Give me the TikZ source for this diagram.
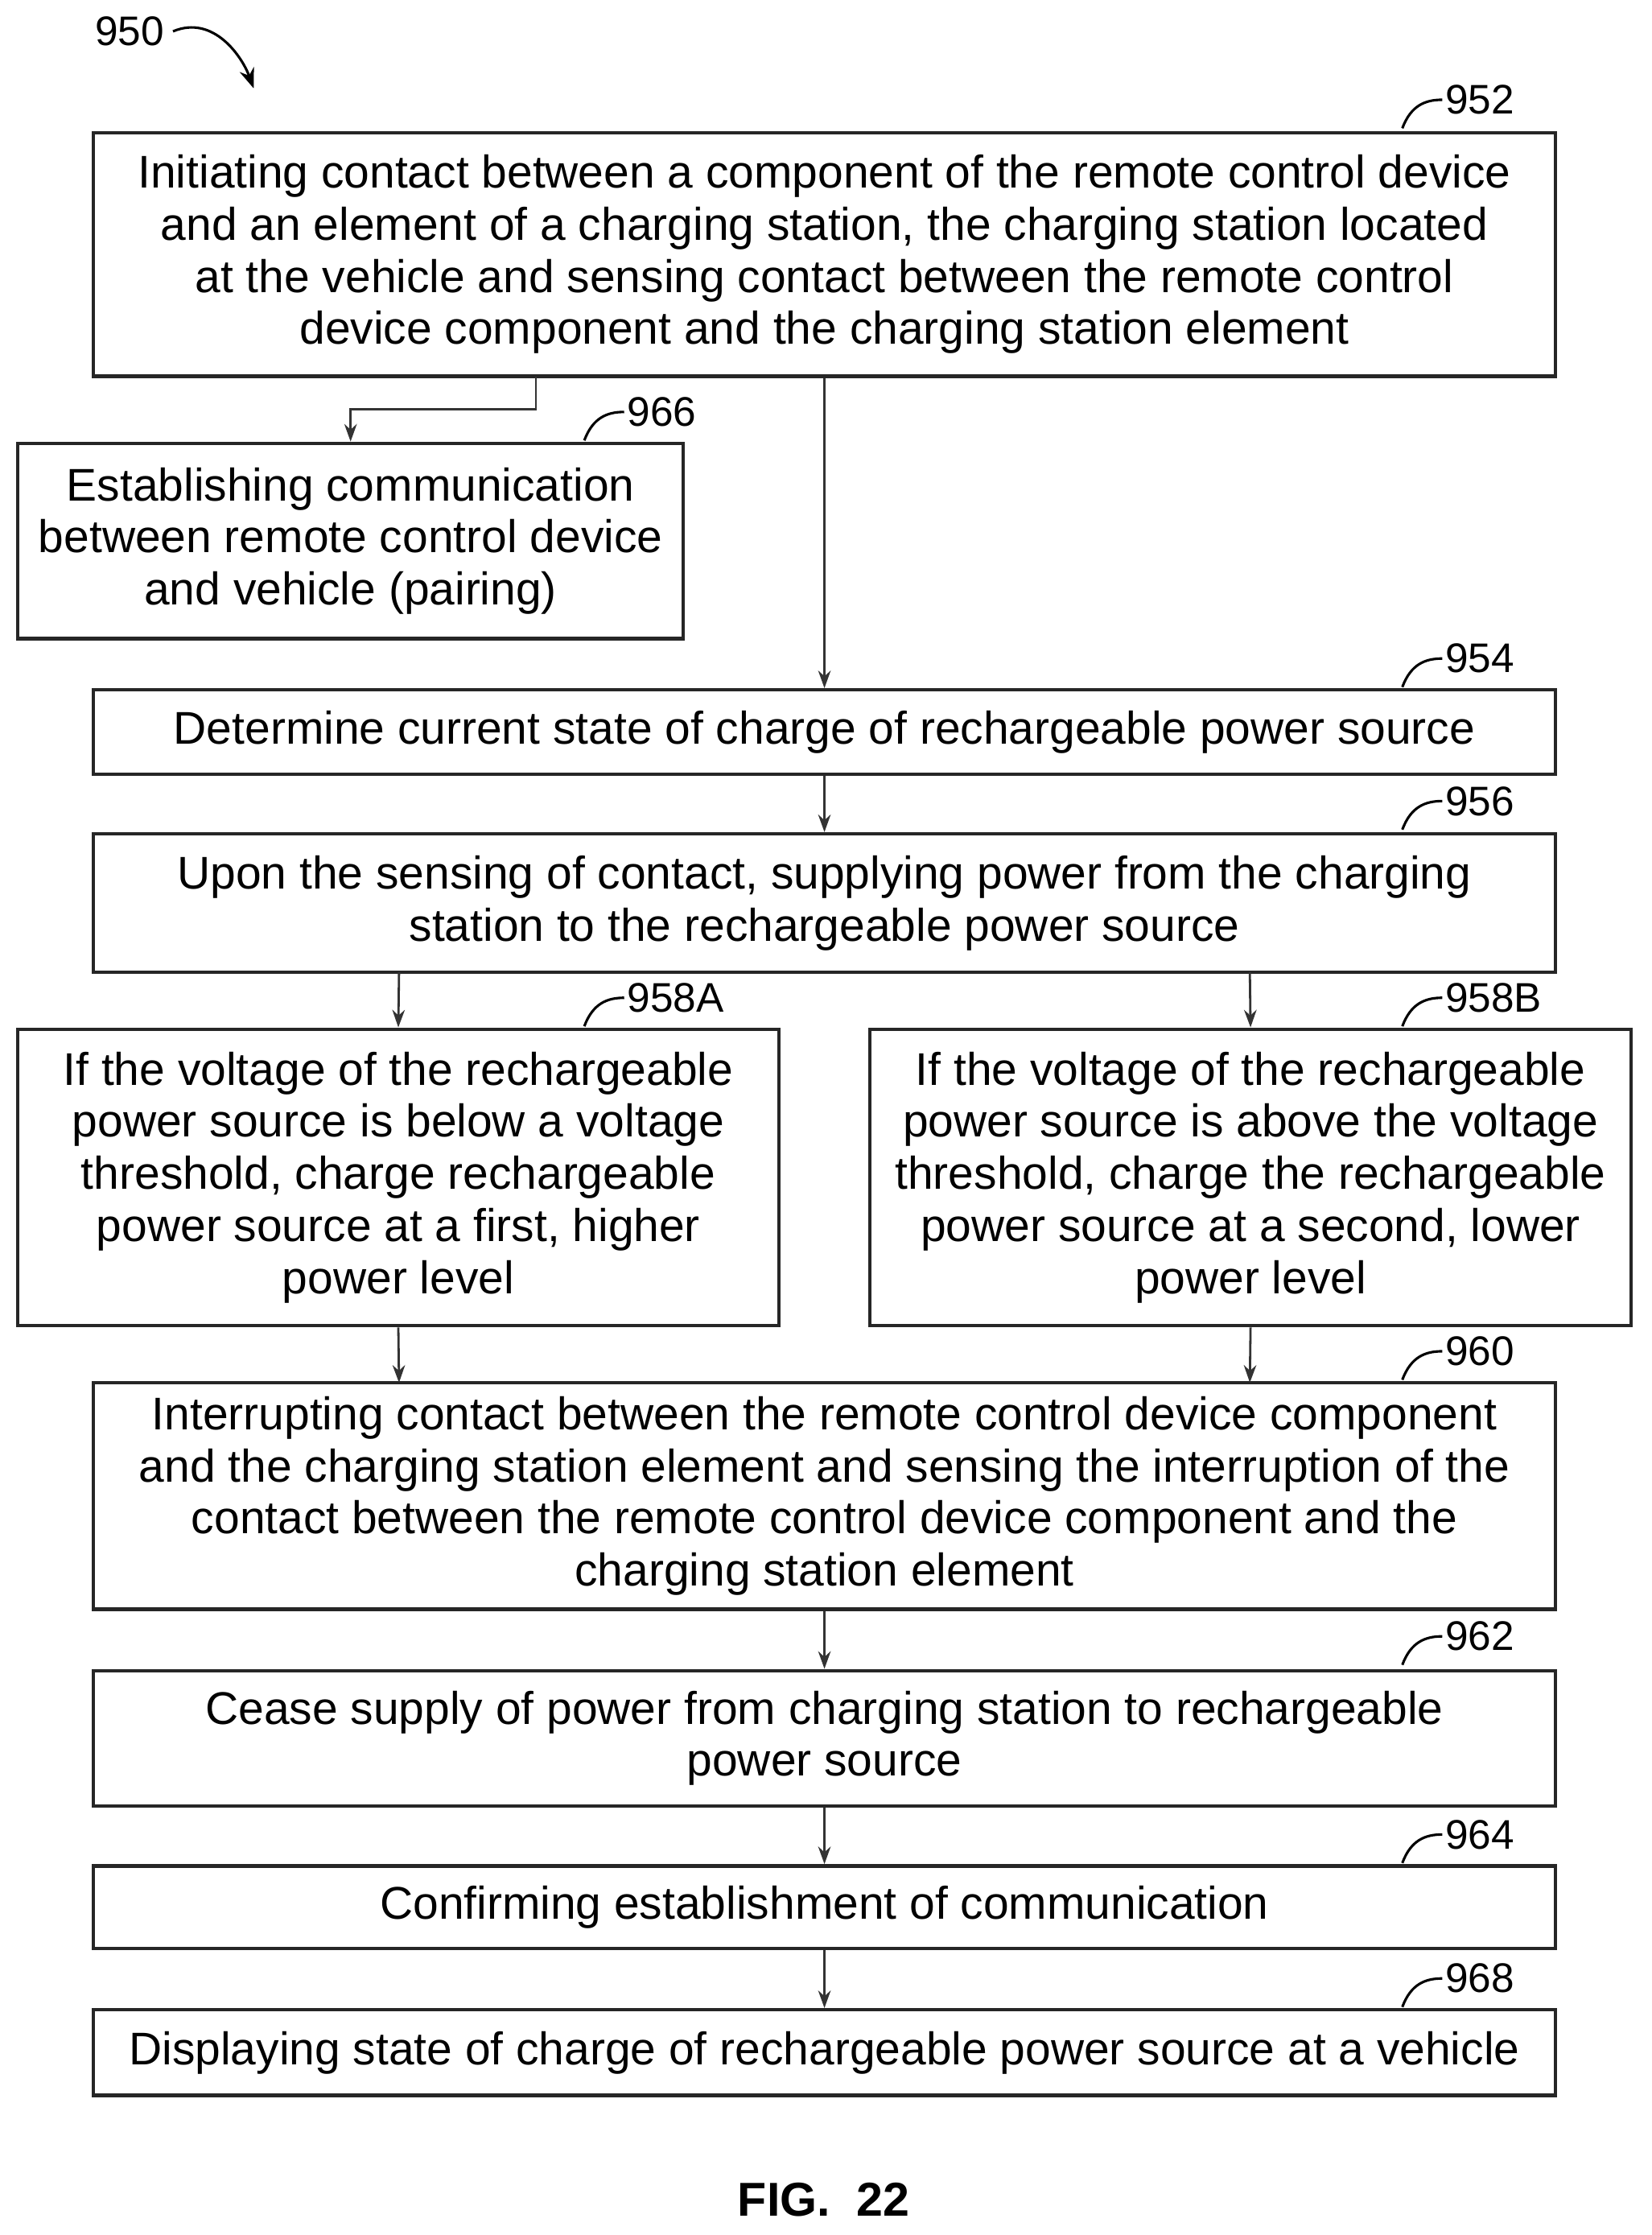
\documentclass[tikz,border=0pt]{standalone}
\usepackage{fontspec}
\setmainfont{Liberation Sans}
\usetikzlibrary{arrows.meta}
\begin{document}
\begin{tikzpicture}[x=0.02cm,y=-0.02cm,
 box/.style={draw=black!85,line width=1.4pt,align=center,inner sep=0pt,font=\fontsize{18.3}{20.8}\selectfont},
 arr/.style={draw=black!80,line width=0.9pt,-{Stealth[length=7pt,width=5pt]}},
 lab/.style={font=\fontsize{16.5}{18}\selectfont,anchor=west,inner sep=1pt},
 lead/.style={line width=1pt}]
\useasboundingbox (0,0) rectangle (1159,1568);
\newcommand{\bx}[6]{\node[box,minimum width=#4*0.02cm-0.02cm,minimum height=#5*0.02cm] (#1) at (#2,#3) {#6};}
\bx{b952}{578.5}{178.5}{1027}{171}{Initiating contact between a component of the remote control device\\and an element of a charging station, the charging station located\\at the vehicle and sensing contact between the remote control\\device component and the charging station element}
\bx{b966}{246}{379.5}{468}{137}{Establishing communication\\between remote control device\\and vehicle (pairing)}
\bx{b954}{578.5}{513.5}{1027}{59}{Determine current state of charge of rechargeable power source}
\bx{b956}{578.5}{633.5}{1027}{97}{Upon the sensing of contact, supplying power from the charging\\station to the rechargeable power source}
\bx{b958A}{279.5}{826}{535}{208}{If the voltage of the rechargeable\\power source is below a voltage\\threshold, charge rechargeable\\power source at a first, higher\\power level}
\bx{b958B}{877.5}{826}{535}{208}{If the voltage of the rechargeable\\power source is above the voltage\\threshold, charge the rechargeable\\power source at a second, lower\\power level}
\bx{b960}{578.5}{1049.5}{1027}{159}{Interrupting contact between the remote control device component\\and the charging station element and sensing the interruption of the\\contact between the remote control device component and the\\charging station element}
\bx{b962}{578.5}{1219.5}{1027}{95}{Cease supply of power from charging station to rechargeable\\power source}
\bx{b964}{578.5}{1338}{1027}{58}{Confirming establishment of communication}
\bx{b968}{578.5}{1440}{1027}{60}{Displaying state of charge of rechargeable power source at a vehicle}
% connectors
\draw[arr] (b952.south) -- (b954.north);
\coordinate (k1) at (376,264);
\draw[arr] (k1) |- (246,287) -- (b966.north);
\draw[arr] (b954.south) -- (b956.north);
\draw[arr] (280,682) -- (b958A.north);
\draw[arr] (877,682) -- (b958B.north);
\draw[arr] (b958A.south) -- (280,970);
\draw[arr] (b958B.south) -- (877,970);
\draw[arr] (b960.south) -- (b962.north);
\draw[arr] (b962.south) -- (b964.north);
\draw[arr] (b964.south) -- (b968.north);
% reference labels
\foreach \n/\x/\y in {952/1012/70,966/438/289,954/1012/462,956/1012/562,958A/438/700,958B/1012/700,960/1012/948,962/1012/1148,964/1012/1287,968/1012/1388}{
 \node[lab] (l\n) at (\x,\y) {\n};
 \draw[lead] (\x-28,\y+20) .. controls (\x-22,\y+4) and (\x-12,\y) .. (l\n.west);
}
\node[font=\fontsize{16.5}{18}\selectfont] (l950) at (91,22) {950};
\draw[line width=1pt,-{Stealth[length=8pt,width=6pt]}] (l950.east) .. controls (150,10) and (170,40) .. (178,62);
\node[font=\bfseries\fontsize{19}{22}\selectfont] (fig) at (578,1543) {FIG.~~22};
\end{tikzpicture}
\end{document}
